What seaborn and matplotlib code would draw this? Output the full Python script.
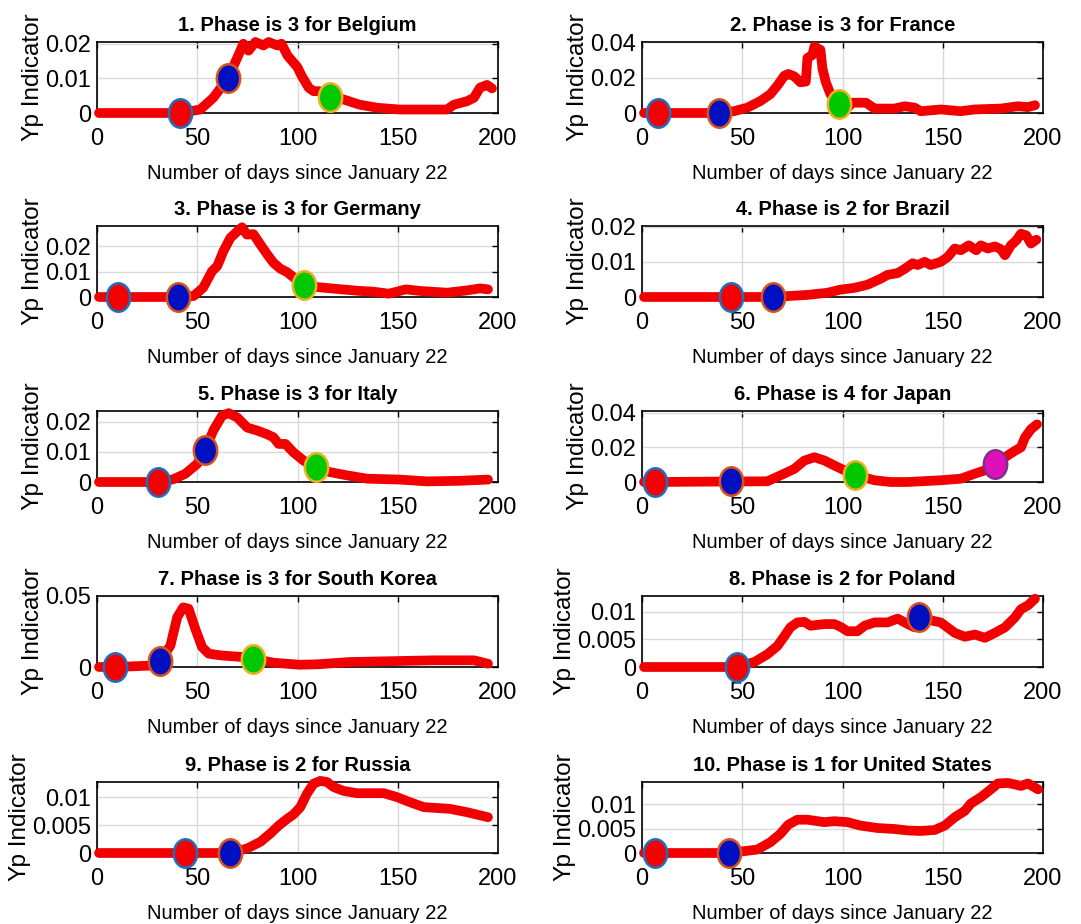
import numpy as np
import pandas as pd
import seaborn as sns
import matplotlib.pyplot as plt
from matplotlib.path import Path
from matplotlib.transforms import Affine2D

# Yp indicator per country (day since Jan 22, value)
belgium_day = [1, 41, 51.5, 58, 65.3, 70, 73, 75.6, 79, 83, 85.6, 90, 92, 95, 100, 102, 105.6, 108, 111, 116, 123, 131, 140, 151, 168, 174.5, 178, 184.5, 188, 191, 194.5, 197]
belgium_yp = [0, 0, 0.001, 0.0044, 0.01, 0.016, 0.020, 0.018, 0.0205, 0.0195, 0.0205, 0.0195, 0.020, 0.0166, 0.0132, 0.0108, 0.0073, 0.0063, 0.0063, 0.0047, 0.0039, 0.0024, 0.0015, 0.001, 0.001, 0.001, 0.0024, 0.0034, 0.0044, 0.0073, 0.0081, 0.0071]

france_day = [1, 38.3, 45.8, 52.5, 59, 64, 67.5, 71, 73, 76, 79, 81.7, 82.5, 85, 86, 87.5, 89, 90, 91.7, 94, 98.3, 102.5, 105, 111.7, 116, 126, 131, 136, 139, 149, 159, 166, 179, 187.5, 192.5, 196]
france_yp = [0, 0, 0.001, 0.003, 0.0067, 0.0106, 0.0154, 0.021, 0.022, 0.0206, 0.0173, 0.0177, 0.031, 0.0327, 0.0375, 0.0365, 0.0356, 0.025, 0.0173, 0.0106, 0.0052, 0.003, 0.0058, 0.0058, 0.0025, 0.0025, 0.0038, 0.003, 0.001, 0.002, 0.001, 0.002, 0.0025, 0.0038, 0.0033, 0.0044]

germany_day = [1, 40.4, 48.2, 53, 57.4, 60, 63, 66.5, 70, 72.3, 74.8, 78, 81.5, 85, 88, 91.4, 94.8, 98, 103, 110, 118, 131, 138, 145.5, 154, 161, 174.6, 184.5, 191, 195]
germany_yp = [0, 0, 0.0004, 0.0037, 0.0102, 0.0122, 0.018, 0.0233, 0.0259, 0.0275, 0.0246, 0.0248, 0.0207, 0.0167, 0.0135, 0.0112, 0.0098, 0.0078, 0.0046, 0.0039, 0.0033, 0.0024, 0.0021, 0.0013, 0.003, 0.0024, 0.0017, 0.0026, 0.0034, 0.003]

brazil_day = [1, 65.3, 82.5, 92.5, 99, 106, 112.5, 119, 122.5, 127.5, 131, 135, 137.5, 141, 144, 149, 152.5, 156, 159, 163, 166.7, 169, 172.5, 176, 179, 181, 184, 186.7, 189, 191.7, 194, 196.7]
brazil_yp = [0, 0, 0.0006, 0.0012, 0.0021, 0.0026, 0.0035, 0.0052, 0.0063, 0.0068, 0.008, 0.0096, 0.0091, 0.01, 0.0091, 0.01, 0.0114, 0.0138, 0.0133, 0.0147, 0.0133, 0.0147, 0.0138, 0.0144, 0.0136, 0.0119, 0.0147, 0.0161, 0.018, 0.0175, 0.0152, 0.0163]

italy_day = [1, 30.3, 38, 44, 50, 54, 58, 62.3, 65.7, 70, 75, 80, 84.8, 88, 90.6, 94, 98, 103, 109, 116, 124.7, 134.7, 151, 164.6, 181, 195]
italy_yp = [0, 0, 0.0009, 0.0027, 0.006, 0.0107, 0.017, 0.0219, 0.0228, 0.0213, 0.018, 0.017, 0.0158, 0.0148, 0.0126, 0.0126, 0.0098, 0.0071, 0.0049, 0.0033, 0.0022, 0.0011, 0.0008, 0.0002, 0.0004, 0.0008]

japan_day = [1, 6.7, 44.2, 62.5, 69, 76, 81, 86, 91, 96, 101, 106, 116, 124, 132.5, 149, 159, 166, 171, 176, 181, 186, 189, 191, 194, 197]
japan_yp = [0, 0, 0.0003, 0.0004, 0.0038, 0.0076, 0.0124, 0.0143, 0.0124, 0.0095, 0.0067, 0.0042, 0.001, 0, 0, 0.001, 0.0019, 0.0048, 0.0067, 0.0105, 0.0143, 0.018, 0.02, 0.0257, 0.0305, 0.0333]

korea_day = [1, 9.1, 27.4, 31.3, 36.6, 40, 43, 45.7, 49, 52.4, 55.7, 61.5, 68, 73, 78, 88, 101, 110, 126, 143, 168, 188, 195]
korea_yp = [0, 0, 0.001, 0.004, 0.015, 0.035, 0.042, 0.041, 0.027, 0.014, 0.0094, 0.0082, 0.0075, 0.007, 0.0059, 0.003, 0.0016, 0.0019, 0.0035, 0.004, 0.0047, 0.0047, 0.0023]

poland_day = [1, 47.2, 56, 62.5, 67.5, 71, 74, 77.5, 81, 84, 91, 96, 99, 102.5, 107.5, 111, 116, 122.5, 127.5, 132.5, 136, 138.3, 145, 149, 156, 161, 166, 171, 176, 181, 186, 189, 192.5, 196]
poland_yp = [0, 0, 0.0009, 0.0023, 0.0038, 0.0056, 0.0072, 0.0081, 0.0082, 0.0075, 0.0078, 0.0078, 0.0073, 0.0065, 0.0065, 0.0075, 0.0081, 0.0081, 0.0088, 0.0078, 0.0072, 0.009, 0.0084, 0.0081, 0.0062, 0.0055, 0.0059, 0.0053, 0.0062, 0.0072, 0.009, 0.0105, 0.0112, 0.0124]

russia_day = [1, 44, 66.2, 74.8, 81.5, 86.5, 90.6, 94.8, 98, 101.4, 104.7, 108, 111.4, 114.7, 118, 123, 129.7, 134.7, 143, 149.6, 156, 163, 176, 184.5, 195]
russia_yp = [0, 0, 0, 0.0008, 0.002, 0.0035, 0.0049, 0.0061, 0.0069, 0.0082, 0.0106, 0.0124, 0.0129, 0.0127, 0.0118, 0.0111, 0.0107, 0.0107, 0.0107, 0.01, 0.0091, 0.0082, 0.0079, 0.0073, 0.0064]

usa_day = [1, 43.3, 57.5, 64, 69, 73, 77.5, 82.5, 91, 96, 102.5, 109, 117.5, 126, 132.5, 139, 146, 151, 156, 161, 164, 169, 174, 177.5, 182.5, 186, 189, 192.5, 197.5]
usa_yp = [0, 0, 0.0007, 0.0022, 0.0039, 0.0058, 0.0068, 0.0068, 0.0063, 0.0065, 0.0063, 0.0056, 0.0051, 0.0049, 0.0046, 0.0045, 0.0047, 0.0056, 0.0073, 0.0086, 0.0101, 0.0114, 0.013, 0.0142, 0.0143, 0.014, 0.0137, 0.0142, 0.013]

# phase markers: (day, yp, phase number)
belgium_marks = [(41.2, 0, 1), (65.3, 0.01, 2), (116, 0.0047, 3)]
france_marks = [(7.8, 0, 1), (38.3, 0, 2), (98.3, 0.0052, 3)]
germany_marks = [(10.3, 0, 1), (40.4, 0, 2), (103, 0.0046, 3)]
brazil_marks = [(44.2, 0, 1), (65.3, 0, 2)]
italy_marks = [(30.3, 0, 1), (54, 0.0107, 2), (109, 0.0049, 3)]
japan_marks = [(6.7, 0, 1), (44.2, 0.0003, 2), (106, 0.0042, 3), (176, 0.0105, 4)]
korea_marks = [(9.1, 0, 1), (31.3, 0.004, 2), (78, 0.0059, 3)]
poland_marks = [(47.2, 0, 1), (138.3, 0.009, 2)]
russia_marks = [(44, 0, 1), (66.2, 0, 2)]
usa_marks = [(6.7, 0, 1), (43.3, 0, 2)]

titles = ["1. Phase is 3 for Belgium", "2. Phase is 3 for France", "3. Phase is 3 for Germany",
          "4. Phase is 2 for Brazil", "5. Phase is 3 for Italy", "6. Phase is 4 for Japan",
          "7. Phase is 3 for South Korea", "8. Phase is 2 for Poland", "9. Phase is 2 for Russia",
          "10. Phase is 1 for United States"]
ytops = [0.0205, 0.04, 0.028, 0.0202, 0.0235, 0.041, 0.05, 0.0129, 0.0127, 0.0145]
yticks = [[0, 0.01, 0.02], [0, 0.02, 0.04], [0, 0.01, 0.02], [0, 0.01, 0.02], [0, 0.01, 0.02],
          [0, 0.02, 0.04], [0, 0.05], [0, 0.005, 0.01], [0, 0.005, 0.01], [0, 0.005, 0.01]]

series = [(belgium_day, belgium_yp, belgium_marks), (france_day, france_yp, france_marks),
          (germany_day, germany_yp, germany_marks), (brazil_day, brazil_yp, brazil_marks),
          (italy_day, italy_yp, italy_marks), (japan_day, japan_yp, japan_marks),
          (korea_day, korea_yp, korea_marks), (poland_day, poland_yp, poland_marks),
          (russia_day, russia_yp, russia_marks), (usa_day, usa_yp, usa_marks)]

face = {1: "#f50000", 2: "#0010c0", 3: "#00c800", 4: "#e010b8"}
edge = {1: "#1f6fc0", 2: "#d95319", 3: "#edb120", 4: "#7e2f8e"}

sns.set_style("whitegrid")
plt.rcParams['font.family'] = ['Liberation Sans', 'DejaVu Sans']
plt.rcParams['text.color'] = 'black'
plt.rcParams['axes.labelcolor'] = 'black'

# slightly tall ellipse marker like the original
ell = Path.unit_circle().transformed(Affine2D().scale(0.82, 1.0))

fig = plt.figure(figsize=(10.81, 9.24), dpi=100)
lefts = [97 / 1081, 642 / 1081]
bottoms = [1 - 113 / 924, 1 - 297 / 924, 1 - 482 / 924, 1 - 667 / 924, 1 - 853 / 924]
w = 401 / 1081
h = 71 / 924

for i, (days, yp, marks) in enumerate(series):
    ax = fig.add_axes([lefts[i % 2], bottoms[i // 2], w, h])
    df = pd.DataFrame({"day": days, "yp": yp})
    sns.lineplot(data=df, x="day", y="yp", ax=ax, color="#f20000", linewidth=7,
                 solid_capstyle="round", solid_joinstyle="round", zorder=2, clip_on=False)
    for d, v, p in marks:
        sns.scatterplot(x=[d], y=[v], ax=ax, marker=ell, s=420, color=face[p],
                        edgecolor=edge[p], linewidth=1.8, zorder=3, clip_on=False)
    ax.set_xlim(0, 200)
    ax.set_ylim(0, ytops[i])
    ax.set_xticks([0, 50, 100, 150, 200])
    ax.set_yticks(yticks[i])
    ax.set_yticklabels([("%g" % t) for t in yticks[i]])
    ax.grid(True, color="#d9d9d9", linewidth=1)
    for s in ax.spines.values():
        s.set_visible(True)
        s.set_color("black")
        s.set_linewidth(1.2)
        s.set_zorder(1)
    ax.tick_params(axis="both", direction="in", length=4, width=1, labelsize=17,
                   top=True, right=True, colors="black")
    ax.tick_params(axis="x", pad=11)
    ax.tick_params(axis="y", pad=4)
    ax.set_title(titles[i], fontsize=14.5, fontweight="bold", pad=8, color="black")
    ax.set_xlabel("Number of days since January 22", fontsize=14.5, labelpad=10)
    ax.set_ylabel("Yp Indicator", fontsize=17.5, labelpad=1)

fig.savefig("out.png", dpi=100, facecolor="white")
